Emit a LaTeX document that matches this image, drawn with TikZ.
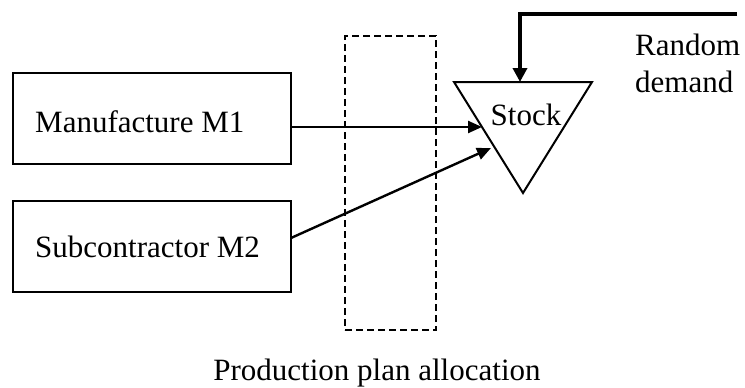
\documentclass[tikz,border=0pt]{standalone}
\usepackage{fontspec}
\setmainfont{Liberation Serif}
\usetikzlibrary{arrows.meta}
\begin{document}
\begin{tikzpicture}[x=1pt,y=-1pt,
  every node/.style={font=\fontsize{31}{36}\selectfont},
  box/.style={draw, line width=2.2pt, minimum width=278pt, minimum height=91pt, inner sep=0pt},
  plan/.style={draw, dashed, dash pattern=on 7pt off 4pt, line width=2pt, minimum width=91pt, minimum height=294pt, inner sep=0pt},
  lbl/.style={anchor=base west, inner sep=0pt},
  arr/.style={line width=2.4pt, -{Triangle[length=14pt,width=12pt]}},
  demand/.style={line width=4.5pt, line join=miter, -{Triangle[length=14pt,width=14pt]}}
]
\useasboundingbox (0,0) rectangle (745,388);
% boxes
\node[box] (m1) at (152,118.5) {};
\node[box] (m2) at (152,246.5) {};
\node[lbl] (m1t) at (35,132) {Manufacture M1};
\node[lbl] (m2t) at (35,257) {Subcontractor M2};
% dashed allocation box
\node[plan] (alloc) at (390.5,183) {};
\node[anchor=base, inner sep=0pt] (alloct) at (377,380) {Production plan allocation};
% stock triangle
\coordinate (tl) at (454,82);
\coordinate (tr) at (592,82);
\coordinate (bt) at (523,193);
\draw[line width=2pt, line join=miter] (tl) -- (tr) -- (bt) -- cycle;
\node[anchor=base, inner sep=0pt] (stock) at (526,125) {Stock};
% arrows into stock
\coordinate (tipA) at (482,127);
\coordinate (tipB) at (491,148);
\coordinate (srcB) at (291,238);
\draw[arr] (m1.east |- tipA) -- (tipA);
\draw[arr] (srcB) -- (tipB);
% random demand
\coordinate (dstart) at (737,14);
\coordinate (dcorner) at (520,14);
\coordinate (dtip) at (520,82);
\draw[demand] (dstart) -- (dcorner) -- (dtip);
\node[lbl] (rd1) at (635,56) {Random};
\node[lbl] (rd2) at (635,92) {demand};
\end{tikzpicture}
\end{document}
